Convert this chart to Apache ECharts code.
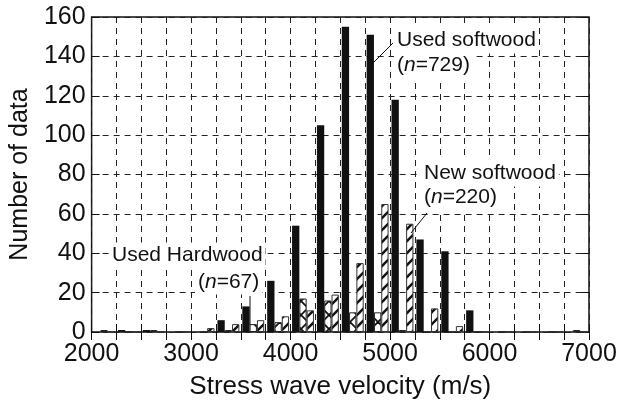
<!DOCTYPE html>
<html><head><meta charset="utf-8">
<script src="https://cdn.jsdelivr.net/npm/echarts@6/dist/echarts.min.js"></script>
<style>html,body{margin:0;padding:0;background:#fff}#c{width:621px;height:412px}</style>
</head><body><div id="c"></div><script>
// bins of 250 m/s (bin start values)
const binStarts = ['2000','2250','2500','2750','3000','3250','3500','3750','4000','4250','4500','4750','5000','5250','5500','5750','6000','6250','6500','6750'];
const usedSoftwood = [0,1,1,0,0,6,13,26,54,105,155,151,118,47,41,11,0,0,0,0];
const usedHardwood = [1,0,1,0,0,1,4,5,17,16,10,10,1,0,0,0,0,0,0,1];
const newSoftwood  = [0,0,0,0,2,4,6,8,11,19,35,65,55,12,3,0,0,0,0,0];
const xTickLabels = [2000,3000,4000,5000,6000,7000];
const yTickLabels = [0,20,40,60,80,100,120,140,160];

const FONT = '"Liberation Sans", Arial, sans-serif';

function makeSlash(){
  const c = document.createElement('canvas'); c.width = 12; c.height = 12;
  const g = c.getContext('2d');
  g.fillStyle = '#fff'; g.fillRect(0,0,12,12);
  g.strokeStyle = '#111'; g.lineWidth = 2.4;
  [[0,12,12,0],[-6,6,6,-6],[6,18,18,6]].forEach(l=>{g.beginPath();g.moveTo(l[0],l[1]);g.lineTo(l[2],l[3]);g.stroke();});
  return c;
}
function makeCross(){
  const s = 14;
  const c = document.createElement('canvas'); c.width = s; c.height = s;
  const g = c.getContext('2d');
  g.fillStyle = '#fff'; g.fillRect(0,0,s,s);
  g.strokeStyle = '#111'; g.lineWidth = 1.8;
  g.beginPath(); g.moveTo(0,s); g.lineTo(s,0); g.stroke();
  g.beginPath(); g.moveTo(0,0); g.lineTo(s,s); g.stroke();
  return c;
}

const chart = echarts.init(document.getElementById('c'), null, {renderer:'canvas'});
const dash = {color:'#222', width:1, type:[6,5]};
chart.setOption({
  animation:false,
  backgroundColor:'#fff',
  grid:{left:87, right:32, top:17, bottom:80, show:true, borderColor:'#111', borderWidth:1.5, backgroundColor:'transparent'},
  xAxis:[
    {type:'category', data:binStarts, position:'top', boundaryGap:true,
     axisLine:{show:false}, axisLabel:{show:false},
     axisTick:{show:true, inside:true, length:8, interval:0, lineStyle:{color:'#111', width:1}},
     splitLine:{show:true, interval:0, lineStyle:dash}},
    {type:'value', position:'bottom', min:xTickLabels[0], max:xTickLabels[xTickLabels.length-1], interval:1000,
     axisLine:{show:false},
     axisTick:{show:true, inside:true, length:8, lineStyle:{color:'#111'}},
     minorTick:{show:true, splitNumber:4, length:8, lineStyle:{color:'#111'}},
     splitLine:{show:false},
     axisLabel:{fontSize:25, fontFamily:FONT, color:'#111', margin:10, formatter:v=>String(v)},
     name:'Stress wave velocity (m/s)', nameLocation:'middle', nameGap:42,
     nameTextStyle:{fontSize:26, fontFamily:FONT, color:'#111'}}
  ],
  yAxis:[
    {type:'value', min:yTickLabels[0], max:yTickLabels[yTickLabels.length-1], interval:20, position:'left',
     axisLine:{show:false},
     axisTick:{show:true, inside:true, length:8, lineStyle:{color:'#111'}},
     splitLine:{show:true, lineStyle:dash},
     axisLabel:{fontSize:25, fontFamily:FONT, color:'#111', margin:6},
     name:'Number of data', nameLocation:'middle', nameGap:55, nameRotate:90,
     nameTextStyle:{fontSize:25, fontFamily:FONT, color:'#111'}},
    {type:'value', min:0, max:160, interval:20, position:'right',
     axisLine:{show:false}, axisLabel:{show:false}, splitLine:{show:false},
     axisTick:{show:true, inside:true, length:8, lineStyle:{color:'#111'}}}
  ],
  series:[
    {type:'bar', name:'Used softwood', xAxisIndex:0, yAxisIndex:0, data:usedSoftwood,
     barWidth:7.3, barGap:'0%', itemStyle:{color:'#111'}},
    {type:'bar', name:'Used hardwood', xAxisIndex:0, yAxisIndex:0, data:usedHardwood,
     barWidth:7.3, barGap:'0%', itemStyle:{color:{image:makeCross(), repeat:'repeat'}, borderColor:'#222', borderWidth:1}},
    {type:'bar', name:'New softwood', xAxisIndex:0, yAxisIndex:0, data:newSoftwood,
     barWidth:7.3, barGap:'0%', itemStyle:{color:{image:makeSlash(), repeat:'repeat'}, borderColor:'#333', borderWidth:1}}
  ],
  graphic:[
    {type:'line', z:100, shape:{x1:393, y1:43, x2:373, y2:63}, style:{stroke:'#111', lineWidth:1}},
    {type:'line', z:100, shape:{x1:427, y1:213, x2:411, y2:233}, style:{stroke:'#111', lineWidth:1}},
    {type:'line', z:100, shape:{x1:250, y1:296, x2:250, y2:325}, style:{stroke:'#111', lineWidth:1}},
    {type:'text', z:101, x:394, y:40, style:{text:'Used softwood', font:'21px '+FONT, fill:'#111', verticalAlign:'middle', backgroundColor:'#fff', padding:[3,3]}},
    {type:'text', z:101, x:394, y:65, style:{text:'({i|n}=729)', font:'21px '+FONT, fill:'#111', verticalAlign:'middle', backgroundColor:'#fff', padding:[3,3], rich:{i:{font:'italic 21px '+FONT, fill:'#111'}}}},
    {type:'text', z:101, x:421, y:173, style:{text:'New softwood', font:'21px '+FONT, fill:'#111', verticalAlign:'middle', backgroundColor:'#fff', padding:[3,3]}},
    {type:'text', z:101, x:421, y:197, style:{text:'({i|n}=220)', font:'21px '+FONT, fill:'#111', verticalAlign:'middle', backgroundColor:'#fff', padding:[3,3], rich:{i:{font:'italic 21px '+FONT, fill:'#111'}}}},
    {type:'text', z:101, x:109, y:255, style:{text:'Used Hardwood', font:'21px '+FONT, fill:'#111', verticalAlign:'middle', backgroundColor:'#fff', padding:[2,3]}},
    {type:'text', z:101, x:195, y:282, style:{text:'({i|n}=67)', font:'21px '+FONT, fill:'#111', verticalAlign:'middle', backgroundColor:'#fff', padding:[2,3], rich:{i:{font:'italic 21px '+FONT, fill:'#111'}}}}
  ]
});
</script></body></html>
